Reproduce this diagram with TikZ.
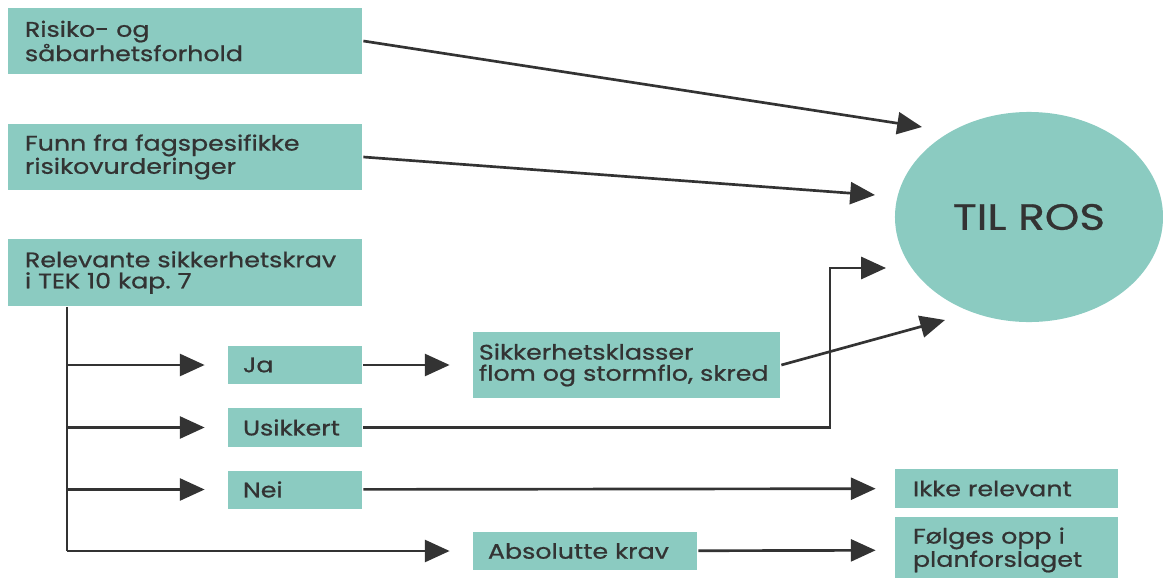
\documentclass[tikz,border=0pt]{standalone}
\usepackage{fontspec}
\setmainfont{Poppins}[FakeStretch=1.2,FakeBold=0.8]
\usepackage{xcolor}
\usepackage{tikz}
\usetikzlibrary{arrows.meta,positioning,shapes.geometric}
\frenchspacing

\definecolor{rosteal}{HTML}{8BCBC1}
\definecolor{rosdark}{HTML}{333333}

\tikzset{
    box/.style={rectangle,fill=rosteal,text=rosdark,align=left,inner ysep=0pt,
        font=\fontsize{15}{15}\selectfont},
    bigbox/.style={box,text width=8cm,inner xsep=0.425cm,minimum height=1.65cm},
    smallbox/.style={box,text width=2.6cm,inner xsep=0.375cm,minimum height=0.95cm},
}

\begin{document}
\begin{tikzpicture}[->,>={Triangle[length=0.62cm,width=0.55cm]},line width=1.9pt,
    draw=rosdark,x=0.025cm,y=-0.025cm]

\useasboundingbox (0,0) rectangle (1163,578);

\node[bigbox] (risiko) at (185,41) {Risiko- og\\såbarhetsforhold};
\node[bigbox] (funn) at (185,157) {Funn fra fagspesifikke\\risikovurderinger};
\node[bigbox] (krav) at (185,272.5) {Relevante sikkerhetskrav\\i TEK 10 kap. 7};

\node[smallbox] (ja) at (295,365) {Ja};
\node[smallbox] (usikkert) at (295,427.5) {Usikkert};
\node[smallbox] (nei) at (295,489.5) {Nei};

\node[box,text width=7.375cm,inner xsep=0.15cm,minimum height=1.65cm]
    (klasser) at (626.5,365) {Sikkerhetsklasser\\flom og stormflo, skred};
\node[box,text width=4.85cm,inner xsep=0.375cm,minimum height=0.95cm]
    (absolutt) at (585,551) {Absolutte krav};
\node[box,text width=4.675cm,inner xsep=0.45cm,minimum height=0.975cm]
    (ikke) at (1006.5,488.5) {Ikke relevant};
\node[box,text width=4.675cm,inner xsep=0.45cm,minimum height=1.65cm]
    (folges) at (1006.5,550) {Følges opp i\\planforslaget};

\node[ellipse,fill=rosteal,text=rosdark,minimum width=6.7cm,minimum height=5.25cm,
    font=\fontsize{26}{26}\selectfont] (ros) at (1029,217) {TIL ROS};

% free ends near the ellipse
\coordinate (rosA) at (922,127);
\coordinate (rosB) at (875,195);
\coordinate (bend) at (830,268);
\coordinate (rosC) at (886,268);
\coordinate (rosD) at (945,320);
\coordinate (trunk) at (67,551);

\draw (risiko.east) -- (rosA);
\draw (funn.east) -- (rosB);
\draw (usikkert) -| (bend) -- (rosC);
\draw (klasser.east) -- (rosD);

\draw[-] (krav.south -| trunk) -- (trunk);
\path[shorten >=0.55cm]
    (ja -| trunk) edge (ja)
    (usikkert -| trunk) edge (usikkert)
    (nei -| trunk) edge (nei)
    (trunk) edge (absolutt)
    (ja) edge (klasser);
\path[shorten >=0.45cm]
    (nei) edge (ikke)
    (absolutt) edge (folges);

\end{tikzpicture}
\end{document}
